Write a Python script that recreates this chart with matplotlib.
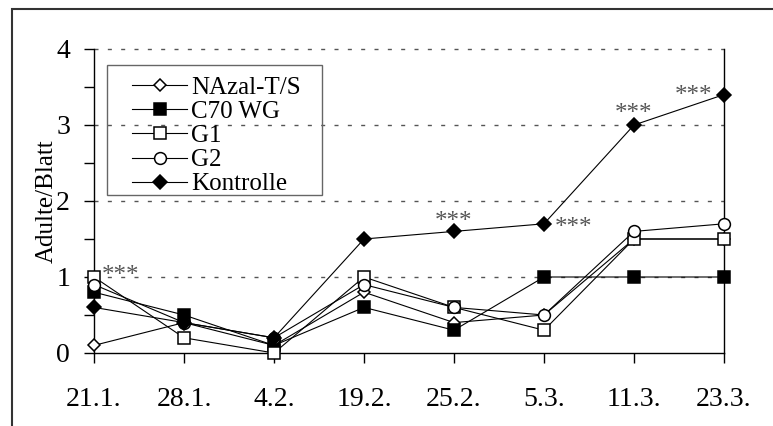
import numpy as np
import matplotlib.pyplot as plt
from matplotlib.patches import Rectangle

plt.rcParams['font.family'] = ['Liberation Serif', 'DejaVu Serif']

dates = ['21.1.', '28.1.', '4.2.', '19.2.', '25.2.', '5.3.', '11.3.', '23.3.']

nazal = [0.1, 0.4, 0.1, 0.8, 0.4, 0.5, 1.5, 1.5]
c70 = [0.8, 0.5, 0.1, 0.6, 0.3, 1.0, 1.0, 1.0]
g1 = [1.0, 0.2, 0.0, 1.0, 0.6, 0.3, 1.5, 1.5]
g2 = [0.9, 0.4, 0.2, 0.9, 0.6, 0.5, 1.6, 1.7]
kontrolle = [0.6, 0.4, 0.2, 1.5, 1.6, 1.7, 3.0, 3.4]

# significance stars: (date index, which series value, offset in points)
stars = [(0, g1, (19, 1)), (4, kontrolle, (0, 7)), (5, kontrolle, (21, -3)),
         (6, kontrolle, (0, 8)), (7, kontrolle, (-22, -1))]

yticks = [0, 1, 2, 3, 4]

fig = plt.figure(figsize=(7.73, 4.26), dpi=100)
ax = fig.add_axes([94 / 773, 73 / 426, 630 / 773, 304 / 426])

x = np.arange(len(dates))

for v in yticks[1:]:
    ax.axhline(v, color='#555555', lw=1.0, dashes=(2.9, 6.7), zorder=1, clip_on=False)

style = dict(color='black', lw=0.8, mew=1.1, zorder=3, clip_on=False)
ax.plot(x, nazal, marker='D', ms=6.5, mfc='white', mec='black', label='NAzal-T/S', **style)
ax.plot(x, c70, marker='s', ms=8.5, mfc='black', mec='black', label='C70 WG', **style)
ax.plot(x, g1, marker='s', ms=8.5, mfc='white', mec='black', label='G1', **style)
ax.plot(x, g2, marker='o', ms=8.5, mfc='white', mec='black', label='G2', **style)
ax.plot(x, kontrolle, marker='D', ms=6.8, mfc='black', mec='black', label='Kontrolle', **style)

for i, series, off in stars:
    ax.annotate('***', (x[i], series[i]), xytext=off, textcoords='offset points',
                ha='center', va='center', fontsize=18, color='#555555')

ax.set_xlim(0, len(dates) - 1)
ax.set_ylim(0, 4)
ax.set_xticks(x)
ax.set_xticklabels(dates)
ax.set_yticks(yticks)
ax.set_yticks(np.arange(0.5, 4, 1.0), minor=True)
ax.tick_params(axis='both', which='both', direction='out', length=7.2, width=1.0)
ax.tick_params(axis='x', labelsize=20, pad=17)
ax.tick_params(axis='y', labelsize=20, pad=10)

ax.spines['top'].set_visible(False)
for s in ['left', 'bottom', 'right']:
    ax.spines[s].set_linewidth(1.0)

ax.set_ylabel('Adulte/Blatt', fontsize=18, labelpad=-1)

leg = ax.legend(loc='upper left', bbox_to_anchor=(38 / 630, 277 / 304), borderaxespad=0,
                fontsize=18, handlelength=2.2, handletextpad=0.15, labelspacing=0.07,
                borderpad=0, frameon=False)

# legend box
ax.add_patch(Rectangle((13 / 630, 158 / 304), 215 / 630, 130 / 304, transform=ax.transAxes,
                       fill=False, edgecolor='#666666', lw=1.0, zorder=4))

# outer frame
fig.patches.append(Rectangle((12 / 773, -0.2), 1.2, 1.2 - 9 / 426, transform=fig.transFigure,
                             fill=False, edgecolor='#333333', lw=1.5))

fig.savefig('out.png', dpi=100)
